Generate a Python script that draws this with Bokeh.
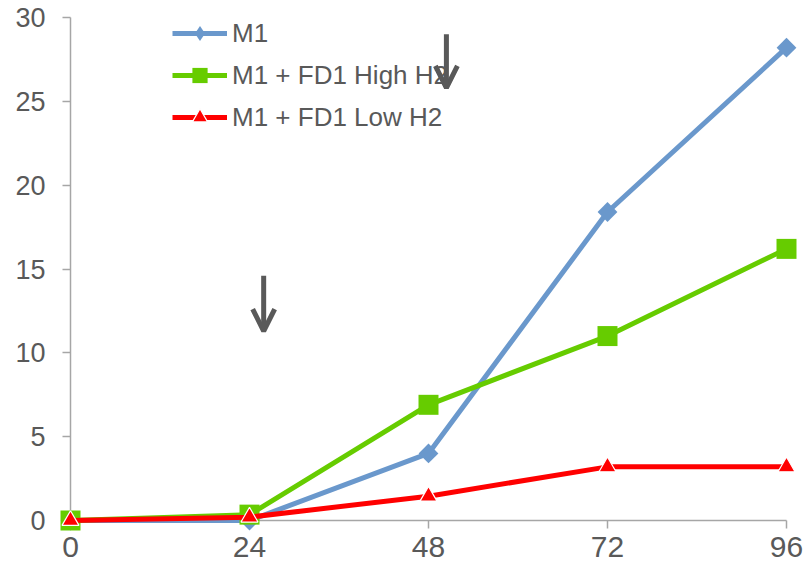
from math import pi

from bokeh.embed import file_html
from bokeh.models import (Arrow, CDSView, ColumnDataSource, FixedTicker,
                          IndexFilter, Legend, LegendItem, OpenHead, Range1d)
from bokeh.plotting import figure
from bokeh.resources import INLINE

# Hours after inoculation
hours = [0, 24, 48, 72, 96]

# Measured values per culture condition
m1 = [0.0, 0.0, 4.0, 18.4, 28.2]
m1_fd1_high_h2 = [0.0, 0.35, 6.9, 11.0, 16.2]
m1_fd1_low_h2 = [0.0, 0.2, 1.45, 3.2, 3.2]

series_names = ["M1", "M1 + FD1 High H2", "M1 + FD1 Low H2"]

# Feeding events marked with arrows: (hour, arrow top, arrow tip)
feed_hours = [25.9, 50.4]
feed_top = [14.6, 29.0]
feed_tip = [11.3, 25.8]

x_ticks = [0, 24, 48, 72, 96]
y_ticks = [0, 5, 10, 15, 20, 25, 30]

FONT = "Liberation Sans"
TEXT_COLOR = "#595959"
AXIS_COLOR = "#a6a6a6"

p = figure(
    frame_width=716, frame_height=503,
    min_border_left=70, min_border_top=17, min_border_right=21, min_border_bottom=46,
    x_range=Range1d(0, 96), y_range=Range1d(0, 30),
    output_backend="svg", toolbar_location=None,
)
p.outline_line_color = None
p.grid.visible = False
p.background_fill_color = "white"
p.border_fill_color = "white"

for ax in (p.xaxis[0], p.yaxis[0]):
    ax.axis_line_color = AXIS_COLOR
    ax.axis_line_width = 1.5
    ax.major_tick_line_color = AXIS_COLOR
    ax.major_tick_line_width = 1.5
    ax.minor_tick_line_color = None
    ax.major_tick_in = 0
    ax.major_tick_out = 8
    ax.major_label_text_font = FONT
    ax.major_label_text_color = TEXT_COLOR

p.xaxis.ticker = FixedTicker(ticks=x_ticks)
p.yaxis.ticker = FixedTicker(ticks=y_ticks)
p.xaxis.major_label_text_font_size = "30px"
p.yaxis.major_label_text_font_size = "27px"
p.xaxis.major_label_standoff = 8
p.yaxis.major_label_standoff = 17

# (values, colour, marker, size, angle, outline colour, outline width, legend marker)
styles = [
    (m1, "#6a98cc", "square", 14, pi / 4, "#6a98cc", 0, "diamond"),
    (m1_fd1_high_h2, "#66cc00", "square", 20, 0, "#66cc00", 0, None),
    (m1_fd1_low_h2, "#ff0000", "triangle", 17, 0, "white", 1.2, None),
]

items = []
for name, (vals, color, marker, size, angle, outline, outline_w, key_marker) in zip(series_names, styles):
    src = ColumnDataSource(dict(x=hours, y=vals))
    ln = p.line("x", "y", source=src, line_color=color, line_width=5)
    key = [ln]
    if key_marker is not None:
        # diamond key for the legend; only the first (t = 0) point is drawn
        km = p.scatter("x", "y", source=src, marker=key_marker, size=size,
                       fill_color=color, line_color=outline, line_width=outline_w,
                       view=CDSView(filter=IndexFilter(indices=[0])))
        km.level = "overlay"
        key.append(km)
    sc = p.scatter("x", "y", source=src, marker=marker, size=size, angle=angle,
                   fill_color=color, line_color=outline, line_width=outline_w)
    ln.level = "overlay"
    sc.level = "overlay"
    if key_marker is None:
        key.append(sc)
    items.append(LegendItem(label=name, renderers=key))

legend = Legend(
    items=items, location=(102, 384),
    glyph_width=55, glyph_height=38, label_height=31, spacing=4,
    label_standoff=5, padding=0, margin=0,
    label_text_font=FONT, label_text_font_size="26px", label_text_color=TEXT_COLOR,
    border_line_color=None, background_fill_alpha=0,
)
p.add_layout(legend)

for hx, top, tip in zip(feed_hours, feed_top, feed_tip):
    p.add_layout(Arrow(
        x_start=hx, y_start=top, x_end=hx, y_end=tip,
        line_color=TEXT_COLOR, line_width=5,
        end=OpenHead(size=22, line_color=TEXT_COLOR, line_width=5),
    ))

open("out.html", "w").write(file_html(p, INLINE))
